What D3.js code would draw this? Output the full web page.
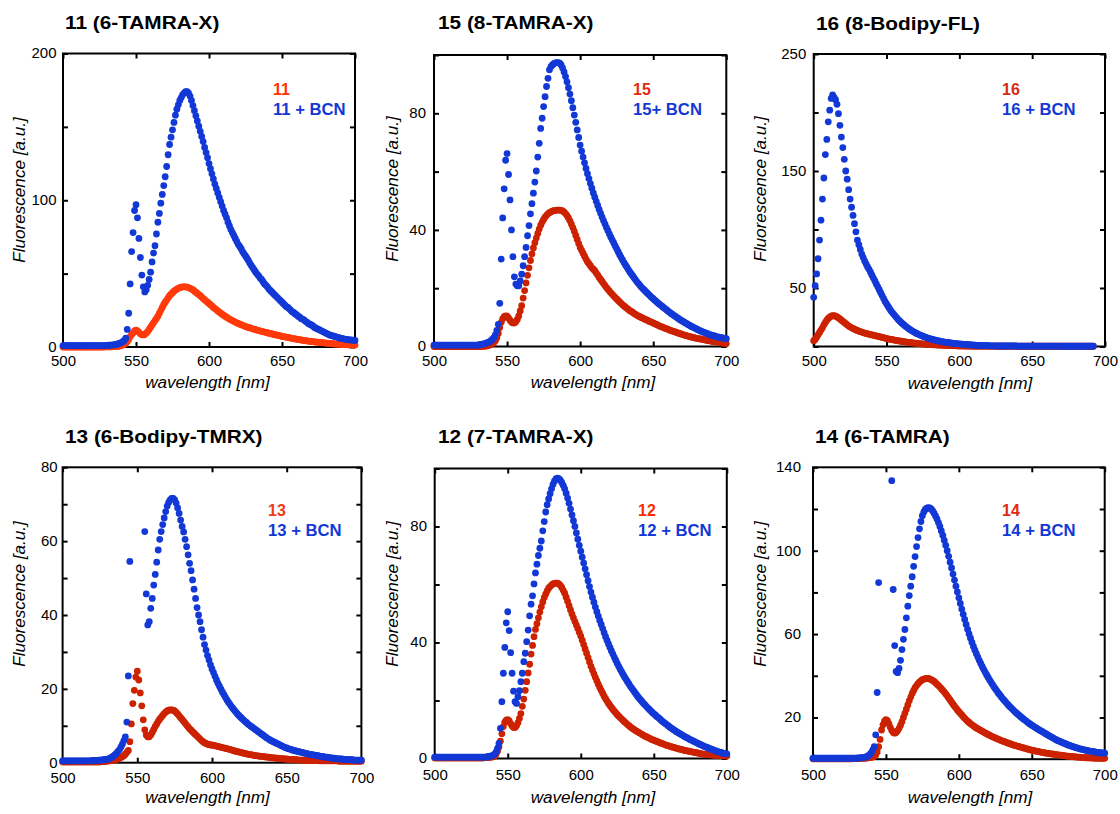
<!DOCTYPE html>
<html>
<head>
<meta charset="utf-8">
<title>Fluorescence spectra with and without BCN</title>
<script src="https://d3js.org/d3.v7.min.js"></script>
<style>
  body { margin: 0; background: #ffffff; }
  svg text { font-family: "Liberation Sans", Arial, sans-serif; }
</style>
</head>
<body>
<svg id="chart" width="1120" height="814"></svg>
<script>
// ---- data: fluorescence [a.u.], one value per nm from 500 nm ----
// null = point off the top of the plot (scatter spike)
var dye11 = [
0,0,0,0,0,0,0,0,0,0,
0,0,0,0,0,0,0,0,0,0,
0,0,0,0,0,0,0,0,0,0.1,
0.1,0.1,0.1,0.1,0.2,0.2,0.2,0.3,0.5,0.7,
1,1.3,1.8,2.5,3.5,5,7,8.5,9.5,11,
11.5,11,10,9,8.4,8.2,8.6,9.5,10.5,12,
13.5,15,16.5,18,19.5,21,23,25,27,29,
30.5,32,33.5,35,36,37,38,38.8,39.5,40,
40.5,40.8,41,41,41,40.8,40.5,40,39.5,39,
38,37.3,36.5,35.7,35,34,33,32.2,31.3,30.5,
29.7,28.8,28,27,26.2,25.5,24.6,23.8,23,22.3,
21.6,21,20.3,19.7,19,18.5,18,17.5,17,16.5,
16,15.6,15.2,14.8,14.4,14,13.6,13.3,13,12.7,
12.4,12.1,11.8,11.5,11.2,11,10.7,10.5,10.2,10,
9.7,9.4,9.2,8.9,8.7,8.4,8.2,8,7.7,7.5,
7.3,7.1,6.9,6.7,6.5,6.3,6.1,5.9,5.7,5.5,
5.3,5.1,5,4.8,4.6,4.5,4.3,4.2,4,3.9,
3.8,3.6,3.5,3.4,3.3,3.2,3.1,3,2.9,2.8,
2.7,2.6,2.5,2.4,2.3,2.2,2.1,2,2,1.9,
1.8,1.8,1.7,1.6,1.6,1.5,1.5,1.4,1.4,1.3,
1.3];
var dye11BCN = [
1,1,1,1,1,1,1,1,1,1,
1,1,1,1,1,1,1,1,1,1,
1,1,1,1,1,1,1,1,1,1.1,
1.1,1.2,1.2,1.3,1.4,1.5,1.7,1.9,2.2,2.6,
3,3.6,4.5,6,12,23,43,65,78,93,
97,88,74,61,49,41,37.5,39,42,46,
51,58,64,69,77,85,91,98,104,110,
116,123,131,138,143,148,153,158,162,165,
168,170,172,173,174,174,173,171,168,164.5,
161,157.5,154,150.5,147,143.5,140,136,132.5,129,
125,121.5,118,114.5,111,108,105,102,99,96,
93,90.5,88,85,82.5,80,78,76,74,72,
70,68.5,67,65,63.5,62,60.5,59,57,55.5,
54,52.5,51,49.5,48.5,47,46,44.5,43,42,
41,39.5,38.5,37.5,36.5,35.5,34.5,33.5,32.5,31.5,
30.5,29.5,28.5,27.5,27,26,25,24,23.5,22.5,
22,21,20.5,19.5,19,18.5,17.5,17,16,15.5,
15,14.5,13.5,13,12.5,12,11.5,11,10.5,10,
9.5,9,8.5,8,7.8,7.5,7.2,6.9,6.6,6.3,
6,5.8,5.6,5.4,5.2,5,4.9,4.8,4.7,4.6,
4.5];
var dye15 = [
0,0,0,0,0,0,0,0,0,0,
0,0,0,0,0,0,0,0,0,0,
0,0,0,0,0,0,0,0,0,0,
0,0,0,0.1,0.1,0.1,0.2,0.3,0.5,0.7,
1,1.4,2,3,4.5,6.5,8.3,9.5,10.2,10.5,
10.4,9.8,9,8.4,8.1,8.1,8.5,9.3,10.5,12.2,
14,16.6,19.2,21.8,24.4,27,29.5,31.8,33.8,35.6,
37.2,38.8,40.3,41.6,42.7,43.6,44.4,45,45.5,45.9,
46.2,46.4,46.6,46.7,46.8,46.8,46.8,46.7,46.5,46.1,
45.6,44.9,44.1,43.1,42,40.8,39.5,38.1,36.7,35.3,
34,33,32,31,30,29.1,28.4,27.7,27,26.5,
26,25.2,24.5,23.7,23,22.3,21.6,20.9,20.2,19.6,
19,18.4,17.9,17.3,16.8,16.3,15.8,15.3,14.8,14.3,
13.9,13.5,13.1,12.7,12.3,12,11.7,11.3,11,10.7,
10.4,10.2,9.9,9.7,9.4,9.2,9,8.7,8.5,8.3,
8.1,7.8,7.6,7.4,7.1,6.9,6.7,6.5,6.3,6.1,
5.9,5.7,5.5,5.3,5.2,5,4.8,4.6,4.5,4.3,
4.1,4,3.8,3.7,3.5,3.4,3.3,3.1,3,2.9,
2.8,2.7,2.6,2.5,2.4,2.3,2.2,2.1,2,1.9,
1.8,1.7,1.6,1.6,1.5,1.4,1.3,1.2,1.2,1.1,
1];
var dye15BCN = [
0.5,0.5,0.5,0.5,0.5,0.5,0.5,0.5,0.5,0.5,
0.5,0.5,0.5,0.5,0.5,0.5,0.5,0.5,0.5,0.5,
0.5,0.5,0.5,0.5,0.5,0.5,0.5,0.5,0.5,0.5,
0.5,0.6,0.7,0.8,0.9,1,1.2,1.4,1.7,2,
2.5,3,4,5.5,7.6,14.8,30,44.1,54.1,63.9,
66.2,59,50.3,40,30.8,23.9,21.4,20.8,20.8,22.5,
24.8,27.7,30.8,34,38,41.5,45.5,49,52.6,56.4,
60.2,65,69.7,74.8,78.3,82.3,85.7,89.2,92,94.9,
96,96.6,97,97.3,97.4,97.4,97.2,96.6,95.5,94.2,
92.6,90.8,88.8,86.6,84.3,81.9,79.4,76.9,74.3,71.7,
69.1,67,65,63,61.1,59.3,57.6,55.9,54.3,52.7,
51.2,49.8,48.4,47,45.7,44.4,43.2,42,40.8,39.7,
38.6,37.5,36.5,35.5,34.5,33.5,32.5,31.5,30.6,29.7,
28.8,28,27.2,26.4,25.6,24.9,24.2,23.5,22.8,22.1,
21.5,20.9,20.3,19.8,19.3,18.8,18.3,17.8,17.3,16.8,
16.4,15.9,15.5,15,14.6,14.2,13.8,13.4,13,12.6,
12.2,11.8,11.4,11.1,10.7,10.4,10,9.7,9.3,9,
8.7,8.4,8.1,7.8,7.5,7.2,6.9,6.7,6.4,6.2,
5.9,5.7,5.4,5.2,5,4.8,4.6,4.4,4.2,4,
3.9,3.7,3.6,3.4,3.3,3.2,3.1,3,2.9,2.8,
2.7];
var dye16 = [
5,6,8,10,12,14,16,18.5,20.5,22.5,
24,25,26,26.3,26.3,26,25.3,24.5,23.5,22.5,
21.5,20.5,19.5,18.5,17.5,16.8,16,15.4,14.8,14.2,
13.7,13.2,12.7,12.3,11.9,11.5,11.1,10.8,10.5,10.2,
9.9,9.6,9.3,9,8.7,8.4,8.1,7.8,7.5,7.2,
6.9,6.6,6.3,6.1,5.8,5.6,5.3,5.1,4.9,4.7,
4.5,4.3,4.1,3.9,3.7,3.5,3.4,3.2,3.1,2.9,
2.8,2.7,2.5,2.4,2.3,2.2,2.1,2,1.9,1.8,
1.7,1.6,1.5,1.4,1.4,1.3,1.2,1.2,1.1,1.1,
1,0.9,0.9,0.8,0.8,0.7,0.7,0.7,0.6,0.6,
0.5,0.5,0.5,0.5,0.4,0.4,0.4,0.4,0.4,0.3,
0.3,0.3,0.3,0.3,0.3,0.3,0.3,0.3,0.3,0.3,
0.3,0.3,0.3,0.3,0.3,0.2,0.2,0.2,0.2,0.2,
0.2,0.2,0.2,0.2,0.2,0.2,0.2,0.2,0.2,0.2,
0.2,0.2,0.2,0.2,0.2,0.2,0.2,0.2,0.2,0.2,
0.2,0.2,0.2,0.2,0.2,0.2,0.2,0.2,0.2,0.2,
0.2,0.2,0.2,0.2,0.2,0.2,0.2,0.2,0.2,0.2,
0.2,0.2,0.2,0.2,0.2,0.2,0.2,0.2,0.2,0.2,
0.2,0.2,0.2,0.2,0.2,0.2,0.2,0.2,0.2,0.2,
0.2,0.2,0.2];
var dye16BCN = [
42,52,62,75,91,108,126,144,164,177,
192,202,212,215,213,211,207,199,189,179,
170,160,150,143,134,126,119,112,105,98,
91,87,83,79,76,73,70.5,68,66,63.5,
61,58.5,56,53.5,51,48.5,46,43.5,41,38.5,
36.5,34.5,32.5,30.5,29,27.5,26,24.5,23,21.8,
20.6,19.5,18.4,17.4,16.4,15.5,14.6,13.8,13,12.3,
11.6,11,10.4,9.8,9.3,8.8,8.3,7.8,7.4,7,
6.6,6.2,5.9,5.6,5.3,5,4.7,4.4,4.2,4,
3.8,3.6,3.4,3.2,3,2.9,2.7,2.6,2.4,2.3,
2.2,2.1,2,1.9,1.8,1.7,1.6,1.5,1.4,1.3,
1.2,1.1,1,1,0.9,0.9,0.8,0.8,0.7,0.7,
0.7,0.6,0.6,0.6,0.6,0.6,0.5,0.5,0.5,0.5,
0.5,0.5,0.5,0.5,0.5,0.5,0.5,0.5,0.5,0.5,
0.4,0.4,0.4,0.4,0.4,0.4,0.4,0.4,0.4,0.4,
0.4,0.4,0.4,0.4,0.4,0.4,0.4,0.4,0.4,0.4,
0.4,0.4,0.4,0.4,0.4,0.4,0.4,0.4,0.4,0.4,
0.3,0.3,0.3,0.3,0.3,0.3,0.3,0.3,0.3,0.3,
0.3,0.3,0.3,0.3,0.3,0.3,0.3,0.3,0.3,0.3,
0.3,0.3,0.3];
var dye13 = [
0.2,0.2,0.2,0.2,0.2,0.2,0.2,0.2,0.2,0.2,
0.2,0.2,0.2,0.2,0.2,0.2,0.2,0.2,0.2,0.2,
0.2,0.2,0.2,0.2,0.2,0.2,0.3,0.3,0.3,0.4,
0.4,0.5,0.5,0.6,0.7,0.8,0.9,1,1.2,1.4,
1.6,1.9,2.3,2.8,3.3,5.7,10.5,16,19.6,23.2,
24.8,22.4,18.9,15.4,11.6,8.9,7.5,7,7,7.5,
8.2,9,9.8,10.5,11.2,11.8,12.3,12.8,13.3,13.7,
14,14.2,14.3,14.3,14.2,14,13.6,13.2,12.7,12.2,
11.7,11.2,10.7,10.2,9.7,9.2,8.8,8.4,8,7.6,
7.2,6.8,6.4,6,5.7,5.4,5.2,5,4.9,4.8,
4.8,4.7,4.6,4.5,4.4,4.3,4.2,4.1,4,3.9,
3.8,3.7,3.6,3.5,3.3,3.2,3.1,3,2.9,2.8,
2.7,2.6,2.5,2.4,2.3,2.2,2.2,2.1,2,1.9,
1.9,1.8,1.8,1.7,1.7,1.6,1.6,1.5,1.5,1.4,
1.4,1.3,1.3,1.2,1.2,1.1,1.1,1.1,1,1,
1,0.9,0.9,0.9,0.9,0.8,0.8,0.8,0.7,0.7,
0.7,0.7,0.7,0.7,0.6,0.6,0.6,0.6,0.6,0.6,
0.6,0.6,0.5,0.5,0.5,0.5,0.5,0.5,0.5,0.5,
0.5,0.5,0.5,0.5,0.5,0.4,0.4,0.4,0.4,0.4,
0.4,0.4,0.4,0.4,0.4,0.4,0.4,0.4,0.4,0.4,
0.4];
var dye13BCN = [
0.5,0.5,0.5,0.5,0.5,0.5,0.5,0.5,0.5,0.5,
0.5,0.5,0.5,0.5,0.5,0.5,0.5,0.5,0.5,0.5,
0.6,0.6,0.6,0.6,0.7,0.7,0.7,0.8,0.8,0.9,
0.9,1.1,1.3,1.5,1.8,2.1,2.5,3,3.5,4.2,
5,6,7,11,23.5,54.5,null,null,null,null,
null,null,null,null,null,62.6,45.7,37.3,38.2,41.8,
44.5,48.1,51,54.3,57.6,60.5,62.6,64.5,66.3,68,
69.5,70.5,71.2,71.6,71.6,71.2,70.3,69,67.5,65.7,
64,62.5,60.5,58.5,56.3,54,52,49.5,47,44.5,
42,40,38.2,36,34,32,30.5,29,27.8,26.5,
25.4,24.4,23.4,22.4,21.5,20.7,19.9,19.1,18.4,17.7,
17,16.4,15.8,15.2,14.7,14.2,13.7,13.2,12.8,12.4,
12,11.6,11.2,10.9,10.5,10.2,9.9,9.6,9.3,9,
8.7,8.4,8.1,7.8,7.5,7.2,6.9,6.6,6.4,6.1,
5.9,5.7,5.5,5.3,5.1,4.9,4.7,4.5,4.3,4.1,
4,3.8,3.7,3.6,3.4,3.3,3.2,3.1,3,2.9,
2.8,2.7,2.6,2.5,2.4,2.3,2.2,2.2,2.1,2,
2,1.9,1.8,1.7,1.7,1.6,1.5,1.5,1.4,1.4,
1.3,1.2,1.2,1.1,1.1,1,1,1,0.9,0.9,
0.9,0.8,0.8,0.8,0.8,0.7,0.7,0.7,0.7,0.7,
0.7];
var dye12 = [
0.2,0.2,0.2,0.2,0.2,0.2,0.2,0.2,0.2,0.2,
0.2,0.2,0.2,0.2,0.2,0.2,0.2,0.2,0.2,0.2,
0.2,0.2,0.2,0.2,0.2,0.2,0.2,0.2,0.2,0.2,
0.2,0.2,0.2,0.2,0.3,0.3,0.3,0.4,0.4,0.5,
0.6,0.8,1.5,2.5,4,6,8.5,11,12.5,13.2,
13.4,13,12,11.2,10.7,10.7,11.3,12.3,13.8,15.5,
18,20.5,23.5,26.5,29.5,32.5,36,39,42,44.5,
46.5,48.5,50.5,52.3,54,55.5,56.7,57.8,58.7,59.3,
59.8,60.2,60.4,60.5,60.5,60.2,59.7,59,58,57,
55.6,54.2,52.7,51.2,49.8,48.5,47.2,46,44.8,43.5,
42.2,40.8,39.3,37.8,36.3,34.8,33.3,31.8,30.5,29.2,
28,26.8,25.6,24.5,23.5,22.5,21.5,20.6,19.8,19,
18.3,17.6,16.9,16.3,15.7,15.1,14.6,14.1,13.6,13.1,
12.6,12.2,11.7,11.3,10.9,10.5,10.2,9.8,9.5,9.2,
8.9,8.6,8.3,8,7.7,7.5,7.2,7,6.7,6.5,
6.3,6.1,5.9,5.7,5.5,5.3,5.1,4.9,4.7,4.5,
4.4,4.2,4.1,3.9,3.8,3.6,3.5,3.3,3.2,3.1,
3,2.8,2.7,2.6,2.5,2.4,2.3,2.2,2.1,2,
1.9,1.8,1.7,1.6,1.5,1.5,1.4,1.4,1.3,1.3,
1.2,1.2,1.1,1.1,1.1,1,1,1,0.9,0.9,
0.9];
var dye12BCN = [
0.5,0.5,0.5,0.5,0.5,0.5,0.5,0.5,0.5,0.5,
0.5,0.5,0.5,0.5,0.5,0.5,0.5,0.5,0.5,0.5,
0.5,0.5,0.5,0.5,0.5,0.5,0.5,0.5,0.5,0.5,
0.5,0.5,0.5,0.5,0.5,0.5,0.6,0.7,0.8,0.9,
1.1,1.5,2.2,3.5,5.2,10.4,19.6,29.4,38.3,46.8,
50.6,44.1,36.5,29.4,23.2,19.6,19,21.3,23.4,26.5,
29.4,33.4,36.3,40.3,44.3,49.2,53.2,56.1,60.2,64,
67,70,72.5,75,78.5,81.7,85,87.5,89.5,91.3,
93,94.5,95.6,96.4,96.7,96.5,96,95.2,94.2,93,
91.5,89.8,88,86,84,82,80,77.8,75.6,73.5,
71.5,69.4,67.4,65.4,63.4,61.3,59.3,57.4,55.6,53.9,
52.2,50.6,49.1,47.6,46.2,44.8,43.4,42,40.7,39.5,
38.3,37.1,36,34.9,33.8,32.8,31.8,30.8,29.9,29,
28.1,27.3,26.5,25.7,24.9,24.2,23.5,22.8,22.1,21.4,
20.8,20.2,19.6,19,18.5,17.9,17.4,16.9,16.4,15.9,
15.4,15,14.5,14.1,13.7,13.2,12.8,12.4,12,11.6,
11.2,10.8,10.5,10.1,9.8,9.4,9.1,8.8,8.5,8.2,
7.9,7.6,7.3,7.1,6.8,6.5,6.3,6,5.8,5.5,
5.3,5,4.8,4.6,4.3,4.1,3.9,3.7,3.5,3.3,
3.1,2.9,2.7,2.5,2.4,2.2,2.1,1.9,1.8,1.7,
1.6];
var dye14 = [
0.2,0.2,0.2,0.2,0.2,0.2,0.2,0.2,0.2,0.2,
0.2,0.2,0.2,0.2,0.2,0.2,0.2,0.2,0.2,0.2,
0.2,0.2,0.2,0.2,0.2,0.2,0.2,0.3,0.3,0.3,
0.3,0.3,0.4,0.4,0.4,0.5,0.5,0.6,0.7,0.8,
0.9,1,1.4,2,3.5,6,9.5,14,16.5,18.3,
19,18.5,17,15.3,13.8,12.8,12.5,12.8,13.6,14.8,
16.3,18,20,22,24,26,28,29.8,31.5,33,
34.3,35.3,36.2,37,37.6,38.1,38.4,38.6,38.7,38.7,
38.5,38.2,37.8,37.3,36.7,36,35.3,34.6,33.8,33,
32.2,31.3,30.4,29.4,28.4,27.4,26.4,25.4,24.5,23.6,
22.8,22,21.2,20.4,19.6,18.9,18.2,17.6,17,16.5,
16,15.5,15,14.6,14.2,13.8,13.4,13,12.6,12.2,
11.9,11.5,11.2,10.8,10.5,10.2,9.9,9.6,9.3,9,
8.7,8.5,8.2,7.9,7.7,7.4,7.2,6.9,6.7,6.5,
6.3,6.1,5.9,5.7,5.5,5.3,5.1,4.9,4.7,4.5,
4.3,4.2,4,3.9,3.7,3.6,3.4,3.3,3.2,3,
2.9,2.8,2.7,2.6,2.5,2.4,2.3,2.2,2.1,2,
1.9,1.8,1.7,1.6,1.5,1.5,1.4,1.3,1.2,1.2,
1.1,1,1,0.9,0.9,0.8,0.8,0.7,0.7,0.7,
0.6,0.6,0.6,0.5,0.5,0.5,0.5,0.4,0.4,0.4,
0.4];
var dye14BCN = [
0.5,0.5,0.5,0.5,0.5,0.5,0.5,0.5,0.5,0.5,
0.5,0.5,0.5,0.5,0.5,0.5,0.5,0.5,0.5,0.5,
0.5,0.5,0.5,0.5,0.5,0.5,0.5,0.5,0.5,0.5,
0.5,0.6,0.6,0.7,0.8,0.9,1,1.3,1.7,2.3,
3.2,4.5,6,11.7,32,84.7,null,null,null,null,
null,null,null,null,133.6,81.4,54.5,42.1,41.5,43.5,
47.4,52.6,57.5,62.2,67.8,73.4,78.5,83,87.5,92.5,
97.2,102,106.3,110.5,114,116.8,118.6,119.8,120.4,120.6,
120.5,120,119.2,118,116.7,115.2,113.5,111.6,109.5,107.3,
105,102.6,100,97.3,94.5,91.7,88.8,85.9,83,80.2,
77.4,74.7,72,69.5,67,64.6,62.3,60.1,58,56,
54.1,52.3,50.6,49,47.4,45.9,44.5,43.1,41.8,40.5,
39.3,38.1,37,35.9,34.8,33.8,32.8,31.8,30.9,30,
29.1,28.3,27.5,26.7,25.9,25.2,24.5,23.8,23.1,22.4,
21.8,21.2,20.6,20,19.4,18.9,18.4,17.8,17.3,16.8,
16.3,15.9,15.4,15,14.5,14.1,13.7,13.3,12.9,12.5,
12,11.6,11.2,10.8,10.4,10,9.6,9.2,8.9,8.6,
8.3,8,7.7,7.4,7.1,6.8,6.6,6.3,6.1,5.8,
5.6,5.4,5.2,5,4.8,4.6,4.5,4.3,4.2,4,
3.9,3.8,3.7,3.5,3.4,3.3,3.2,3.1,3,3,
2.9];

var firstWavelength = 500;
var xTicks = [500, 550, 600, 650, 700];
var titles = ["11 (6-TAMRA-X)", "15 (8-TAMRA-X)", "16 (8-Bodipy-FL)",
              "13 (6-Bodipy-TMRX)", "12 (7-TAMRA-X)", "14 (6-TAMRA)"];
var dyeLabels = ["11", "15", "16", "13", "12", "14"];
var bcnLabels = ["11 + BCN", "15+ BCN", "16 + BCN", "13 + BCN", "12 + BCN", "14 + BCN"];
var yMaxes = [200, 100, 250, 80, 100, 140];
var yTickSteps = [50, 20, 50, 10, 20, 20];
var yTickLabels = [[0, 100, 200], [0, 40, 80], [50, 150, 250], [0, 20, 40, 60, 80], [0, 40, 80], [20, 60, 100, 140]];
var dyeSeries = [dye11, dye15, dye16, dye13, dye12, dye14];
var bcnSeries = [dye11BCN, dye15BCN, dye16BCN, dye13BCN, dye12BCN, dye14BCN];

// ---- layout (pixels) ----
var layout = [
  {left: 63,    right: 355,    top: 53.5,  bottom: 347,   yPad: 6.5, xPad: 9.5,  titleX: 65,  titleY: 29,  legX: 273,  legY: 95,  xLabX: 207.5, xLabY: 388, yLabX: 25,  yLabY: 190, red: "#ff3a0a", legRed: "#ff3300"},
  {left: 434,   right: 726.3,  top: 55,    bottom: 346.5, yPad: 8,   xPad: 9.5,  titleX: 438, titleY: 29,  legX: 633,  legY: 95,  xLabX: 593,   xLabY: 388, yLabX: 398, yLabY: 189, red: "#cc2200", legRed: "#e02a10"},
  {left: 813.7, right: 1105,   top: 54,    bottom: 346.5, yPad: 7.5, xPad: 9.5,  titleX: 816, titleY: 30,  legX: 1002, legY: 95,  xLabX: 970,   xLabY: 389, yLabX: 766, yLabY: 189, red: "#cc2200", legRed: "#d42a10"},
  {left: 62.6,  right: 361.4,  top: 467.3, bottom: 762.7, yPad: 5,   xPad: 10.5, titleX: 65,  titleY: 443, legX: 268,  legY: 516, xLabX: 207.5, xLabY: 803, yLabX: 25,  yLabY: 594, red: "#cc2200", legRed: "#f03a14"},
  {left: 434.7, right: 726.8,  top: 468.5, bottom: 758.5, yPad: 7.7, xPad: 11.5, titleX: 438, titleY: 443, legX: 638,  legY: 516, xLabX: 593,   xLabY: 803, yLabX: 398, yLabY: 594, red: "#cc2200", legRed: "#ff2a00"},
  {left: 813,   right: 1104.7, top: 467.3, bottom: 759.2, yPad: 12,  xPad: 11,   titleX: 815, titleY: 443, legX: 1002, legY: 516, xLabX: 970,   xLabY: 803, yLabX: 766, yLabY: 594, red: "#cc2200", legRed: "#e02a10"}
];
var blue = "#1238d6";
var dotR = 3.4;

var svg = d3.select("#chart");
svg.append("rect").attr("width", 1120).attr("height", 814).attr("fill", "#ffffff");

// widen a text to k times its natural width (the figure's lettering is broad)
function stretch(sel, k) {
  sel.each(function () {
    var w = this.getComputedTextLength();
    if (w > 0) d3.select(this).attr("textLength", w * k).attr("lengthAdjust", "spacingAndGlyphs");
  });
}

function toPoints(arr, yMax) {
  return arr.map(function (v, i) { return {wl: firstWavelength + i, v: v}; })
            .filter(function (d) { return d.v !== null && d.v <= yMax; });
}

layout.forEach(function (p, i) {
  var g = svg.append("g");
  var yMax = yMaxes[i];
  var x = d3.scaleLinear().domain([500, 700]).range([p.left, p.right]);
  var y = d3.scaleLinear().domain([0, yMax]).range([p.bottom, p.top]);
  var yTickVals = d3.range(0, yMax + 0.001, yTickSteps[i]);
  var labs = yTickLabels[i];

  // frame
  g.append("rect")
    .attr("x", p.left).attr("y", p.top)
    .attr("width", p.right - p.left).attr("height", p.bottom - p.top)
    .attr("fill", "none").attr("stroke", "#000").attr("stroke-width", 2);

  // axes, ticks pointing inwards on all four sides
  var axB = g.append("g").attr("transform", "translate(0," + p.bottom + ")")
    .call(d3.axisBottom(x).tickValues(xTicks).tickSizeInner(-5).tickSizeOuter(0).tickPadding(p.xPad));
  var axT = g.append("g").attr("transform", "translate(0," + p.top + ")")
    .call(d3.axisTop(x).tickValues(xTicks).tickSizeInner(-5).tickSizeOuter(0).tickFormat(""));
  var axL = g.append("g").attr("transform", "translate(" + p.left + ",0)")
    .call(d3.axisLeft(y).tickValues(yTickVals).tickSizeInner(-5).tickSizeOuter(0).tickPadding(p.yPad)
      .tickFormat(function (d) { return labs.indexOf(d) >= 0 ? d : ""; }));
  var axR = g.append("g").attr("transform", "translate(" + p.right + ",0)")
    .call(d3.axisRight(y).tickValues(yTickVals).tickSizeInner(-5).tickSizeOuter(0).tickFormat(""));

  [axB, axT, axL, axR].forEach(function (a) {
    a.select(".domain").remove();
    a.selectAll(".tick line").attr("stroke", "#000").attr("stroke-width", 2);
    a.attr("font-size", 14).attr("font-family", null);
    a.selectAll("text").attr("fill", "#000");
  });
  stretch(axB.selectAll("text"), 1.07);
  stretch(axL.selectAll("text"), 1.07);

  // spectra: dye alone (red) under dye + BCN (blue)
  g.append("g").selectAll("circle")
    .data(toPoints(dyeSeries[i], yMax))
    .join("circle")
    .attr("cx", function (d) { return x(d.wl); })
    .attr("cy", function (d) { return y(d.v); })
    .attr("r", dotR)
    .attr("fill", p.red);
  g.append("g").selectAll("circle")
    .data(toPoints(bcnSeries[i], yMax))
    .join("circle")
    .attr("cx", function (d) { return x(d.wl); })
    .attr("cy", function (d) { return y(d.v); })
    .attr("r", dotR)
    .attr("fill", blue);

  // title
  g.append("text").attr("x", p.titleX).attr("y", p.titleY)
    .attr("font-size", 18).attr("font-weight", "bold").text(titles[i])
    .call(stretch, 1.155);

  // legend
  g.append("text").attr("x", p.legX).attr("y", p.legY)
    .attr("font-size", 16).attr("font-weight", "bold").attr("fill", p.legRed).text(dyeLabels[i]);
  g.append("text").attr("x", p.legX).attr("y", p.legY + 20)
    .attr("font-size", 16).attr("font-weight", "bold").attr("fill", blue).text(bcnLabels[i])
    .call(stretch, 1.04);

  // axis titles
  g.append("text").attr("x", p.xLabX).attr("y", p.xLabY)
    .attr("text-anchor", "middle").attr("font-size", 16).attr("font-style", "italic")
    .text("wavelength [nm]").call(stretch, 1.07);
  g.append("text")
    .attr("transform", "translate(" + p.yLabX + "," + p.yLabY + ") rotate(-90)")
    .attr("text-anchor", "middle").attr("font-size", 16).attr("font-style", "italic")
    .text("Fluorescence [a.u.]").call(stretch, 1.07);
});
</script>
</body>
</html>
